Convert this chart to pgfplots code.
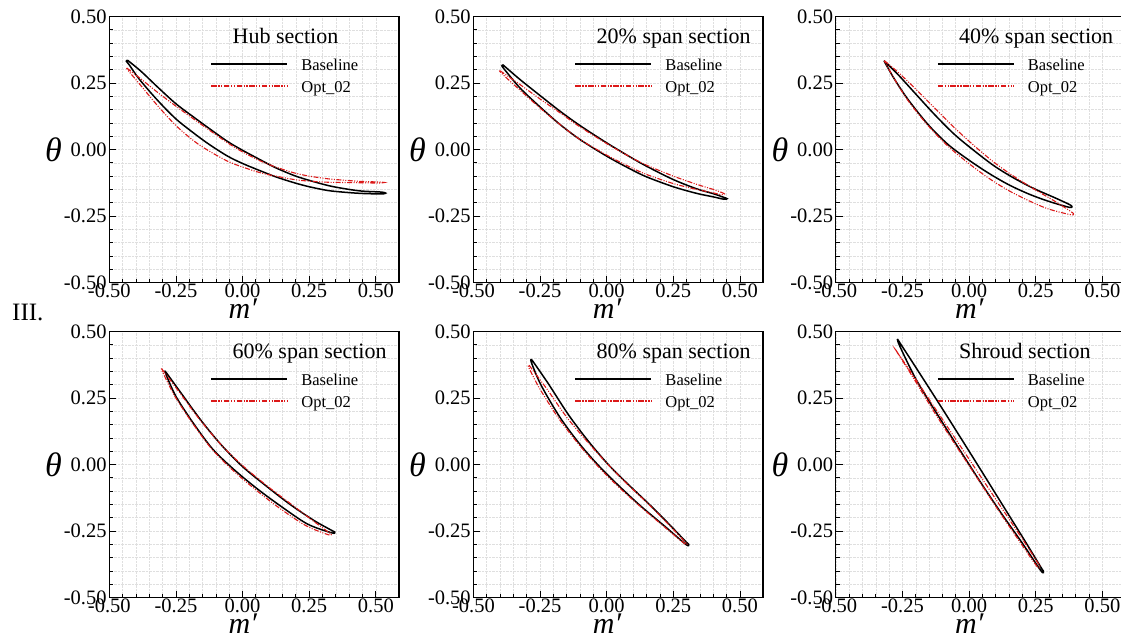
\documentclass[border=0pt]{standalone}
\usepackage{fontspec}
\setmainfont{Liberation Serif}
\usepackage{pgfplots}
\pgfplotsset{compat=1.18}
\definecolor{optred}{RGB}{220,25,25}
\newcommand{\tickfont}{\fontsize{20.5}{22}\selectfont}
\pgfplotsset{
  bladeax/.style={
    scale only axis, width=289.7pt, height=266pt,
    xmin=-0.5, xmax=0.587, ymin=-0.5, ymax=0.5,
    xtick={-0.5,-0.25,0,0.25,0.5}, ytick={-0.5,-0.25,0,0.25,0.5},
    minor x tick num=4, minor y tick num=4,
    tick align=inside, tick pos=left,
    major tick length=7pt, minor tick length=4pt,
    tick style={black, line width=0.8pt},
    grid=both,
    major grid style={gray!25, densely dotted, line width=0.5pt},
    minor grid style={gray!25, densely dotted, line width=0.5pt},
    axis line style={line width=1.3pt},
    tick label style={font=\tickfont},
    /pgf/number format/fixed, /pgf/number format/fixed zerofill,
    /pgf/number format/precision=2, /pgf/number format/assume math mode=true,
    xticklabel style={inner sep=1pt}, yticklabel style={inner sep=2.5pt},
    every axis y label/.style={at={(axis description cs:-0.193,0.5)}, anchor=center},
    every axis x label/.style={at={(axis description cs:0.461,0)}, anchor=base, yshift=-36pt},
    ylabel={\fontsize{34}{34}\selectfont\itshape θ},
    xlabel={\fontsize{30}{30}\selectfont\itshape m′},
  },
  base/.style={black, line width=1.5pt, smooth, tension=0.5},
  opt/.style={optred, line width=1.1pt, smooth, tension=0.5,
    dash pattern=on 5pt off 1.5pt on 1pt off 1.5pt on 1pt off 1.5pt},
}
\newcommand{\legendblock}[1]{%
  \node[anchor=base west, font=\fontsize{22}{22}\selectfont, inner sep=0pt] at (axis cs:-0.038,0.398) {#1};
  \draw[black, line width=2pt] (axis cs:-0.117,0.3233) -- (axis cs:0.168,0.3233);
  \draw[optred, line width=2pt, dash pattern=on 5.5pt off 1.5pt on 1.3pt off 1.5pt on 1.3pt off 1.5pt] (axis cs:-0.117,0.2406) -- (axis cs:0.168,0.2406);
  \node[anchor=base west, font=\fontsize{16.5}{18}\selectfont, inner sep=0pt] at (axis cs:0.22,0.298) {Baseline};
  \node[anchor=base west, font=\fontsize{16.5}{18}\selectfont, inner sep=0pt] at (axis cs:0.22,0.216) {Opt\_02};
}
\newcommand{\panel}[5]{%
  \begin{axis}[bladeax, at={(#1pt,#2pt)}, anchor=north west]
    \addplot[base] coordinates {#4};
    \addplot[opt] coordinates {#5};
    \legendblock{#3}
  \end{axis}}
\begin{document}
\begin{tikzpicture}
% Hub
\panel{109.3}{-16.5}{Hub section}{
(-0.432,0.336) (-0.381,0.294) (-0.319,0.235) (-0.25,0.172) (-0.181,0.12) (-0.125,0.079) (-0.056,0.03) (0,-0.003) (0.069,-0.04) (0.125,-0.069) (0.194,-0.098) (0.25,-0.116) (0.319,-0.135) (0.375,-0.146) (0.444,-0.156) (0.52,-0.160) (0.537,-0.164)
(0.52,-0.167) (0.444,-0.165) (0.375,-0.16) (0.319,-0.154) (0.25,-0.14) (0.194,-0.125) (0.125,-0.103) (0.069,-0.081) (0,-0.0525) (-0.056,-0.025) (-0.125,0.019) (-0.181,0.06) (-0.25,0.115) (-0.319,0.185) (-0.388,0.265) (-0.425,0.318) (-0.436,0.332) (-0.432,0.336)
}{
(-0.434,0.306) (-0.381,0.265) (-0.319,0.215) (-0.25,0.163) (-0.181,0.113) (-0.125,0.073) (-0.056,0.025) (0,-0.009) (0.069,-0.044) (0.125,-0.066) (0.194,-0.088) (0.25,-0.1) (0.319,-0.11) (0.375,-0.115) (0.444,-0.12) (0.51,-0.122) (0.532,-0.124)
(0.51,-0.126) (0.444,-0.125) (0.375,-0.124) (0.319,-0.123) (0.25,-0.119) (0.194,-0.113) (0.125,-0.1) (0.069,-0.088) (0,-0.066) (-0.056,-0.044) (-0.125,-0.006) (-0.181,0.031) (-0.25,0.09) (-0.319,0.165) (-0.388,0.248) (-0.43,0.298) (-0.434,0.306)
}
% 20%
\panel{473.4}{-16.5}{20\% span section}{
(-0.39,0.319) (-0.325,0.263) (-0.25,0.203) (-0.175,0.144) (-0.1,0.09) (0,0.025) (0.088,-0.028) (0.15,-0.063) (0.25,-0.113) (0.338,-0.148) (0.4,-0.166) (0.44,-0.18) (0.452,-0.185)
(0.44,-0.187) (0.4,-0.178) (0.338,-0.165) (0.25,-0.14) (0.15,-0.103) (0.088,-0.073) (0,-0.025) (-0.1,0.0375) (-0.175,0.094) (-0.25,0.16) (-0.325,0.231) (-0.385,0.303) (-0.393,0.315) (-0.39,0.319)
}{
(-0.4,0.296) (-0.325,0.244) (-0.25,0.19) (-0.175,0.138) (-0.1,0.085) (0,0.0225) (0.088,-0.028) (0.15,-0.059) (0.25,-0.1) (0.338,-0.131) (0.4,-0.15) (0.43,-0.161) (0.442,-0.167)
(0.43,-0.17) (0.4,-0.163) (0.338,-0.15) (0.25,-0.128) (0.15,-0.094) (0.088,-0.066) (0,-0.021) (-0.1,0.0375) (-0.175,0.094) (-0.25,0.156) (-0.325,0.223) (-0.395,0.287) (-0.4,0.296)
}
% 40%
\panel{835.8}{-16.5}{40\% span section}{
(-0.319,0.334) (-0.266,0.281) (-0.204,0.213) (-0.129,0.131) (-0.054,0.056) (0.021,-0.006) (0.096,-0.063) (0.171,-0.109) (0.246,-0.148) (0.321,-0.181) (0.375,-0.206) (0.386,-0.214)
(0.375,-0.217) (0.296,-0.194) (0.221,-0.166) (0.146,-0.131) (0.071,-0.0875) (-0.004,-0.0375) (-0.079,0.019) (-0.154,0.094) (-0.229,0.188) (-0.279,0.263) (-0.313,0.322) (-0.319,0.334)
}{
(-0.318,0.334) (-0.266,0.29) (-0.204,0.231) (-0.129,0.156) (-0.054,0.081) (0.021,0.0125) (0.096,-0.05) (0.171,-0.103) (0.246,-0.15) (0.321,-0.194) (0.38,-0.232) (0.392,-0.242)
(0.38,-0.245) (0.296,-0.223) (0.221,-0.191) (0.146,-0.153) (0.071,-0.106) (-0.004,-0.05) (-0.079,0.0125) (-0.154,0.09) (-0.229,0.184) (-0.279,0.263) (-0.312,0.322) (-0.318,0.334)
}
% 60%
\panel{109.3}{-331.5}{60\% span section}{
(-0.291,0.352) (-0.231,0.269) (-0.156,0.166) (-0.081,0.075) (0,-0.008) (0.094,-0.085) (0.181,-0.152) (0.269,-0.211) (0.335,-0.248) (0.346,-0.254)
(0.335,-0.257) (0.244,-0.224) (0.144,-0.157) (0.056,-0.092) (-0.031,-0.02) (-0.113,0.059) (-0.188,0.16) (-0.25,0.256) (-0.288,0.34) (-0.291,0.352)
}{
(-0.304,0.361) (-0.238,0.273) (-0.163,0.172) (-0.081,0.075) (0,-0.004) (0.094,-0.082) (0.181,-0.148) (0.269,-0.215) (0.322,-0.254) (0.333,-0.261)
(0.322,-0.264) (0.238,-0.23) (0.14,-0.165) (0.053,-0.098) (-0.035,-0.023) (-0.116,0.059) (-0.191,0.16) (-0.256,0.26) (-0.3,0.348) (-0.304,0.361)
}
% 80%
\panel{473.4}{-331.5}{80\% span section}{
(-0.281,0.394) (-0.219,0.304) (-0.144,0.188) (-0.069,0.088) (0.006,0) (0.081,-0.075) (0.156,-0.146) (0.231,-0.221) (0.298,-0.291) (0.308,-0.3)
(0.298,-0.301) (0.219,-0.233) (0.131,-0.159) (0.054,-0.088) (-0.021,-0.014) (-0.098,0.073) (-0.175,0.177) (-0.246,0.298) (-0.283,0.385) (-0.281,0.394)
}{
(-0.291,0.373) (-0.225,0.285) (-0.15,0.178) (-0.071,0.084) (0.006,-0.001) (0.081,-0.077) (0.156,-0.148) (0.231,-0.224) (0.292,-0.288) (0.302,-0.296)
(0.292,-0.297) (0.216,-0.234) (0.129,-0.16) (0.051,-0.09) (-0.024,-0.016) (-0.1,0.07) (-0.179,0.172) (-0.25,0.283) (-0.292,0.364) (-0.291,0.373)
}
% Shroud
\panel{835.8}{-331.5}{Shroud section}{
(-0.269,0.472) (-0.19,0.35) (-0.11,0.225) (-0.03,0.098) (0.05,-0.03) (0.13,-0.159) (0.21,-0.288) (0.27,-0.387) (0.279,-0.401)
(0.27,-0.400) (0.20,-0.296) (0.12,-0.182) (0.04,-0.062) (-0.04,0.063) (-0.12,0.19) (-0.2,0.322) (-0.26,0.445) (-0.269,0.472)
}{
(-0.276,0.432) (-0.2,0.32) (-0.12,0.2) (-0.04,0.08) (0.04,-0.04) (0.12,-0.16) (0.2,-0.28) (0.255,-0.365) (0.266,-0.382)
(0.255,-0.383) (0.19,-0.29) (0.11,-0.172) (0.03,-0.05) (-0.05,0.072) (-0.13,0.196) (-0.21,0.327) (-0.27,0.422) (-0.276,0.432)
}
\node[anchor=base west, font=\fontsize{25}{25}\selectfont, inner sep=0pt] at (12pt,-320pt) {III.};
\pgfresetboundingbox
\path[use as bounding box] (0pt,0pt) rectangle (1121pt,-637pt);
\end{tikzpicture}
\end{document}
